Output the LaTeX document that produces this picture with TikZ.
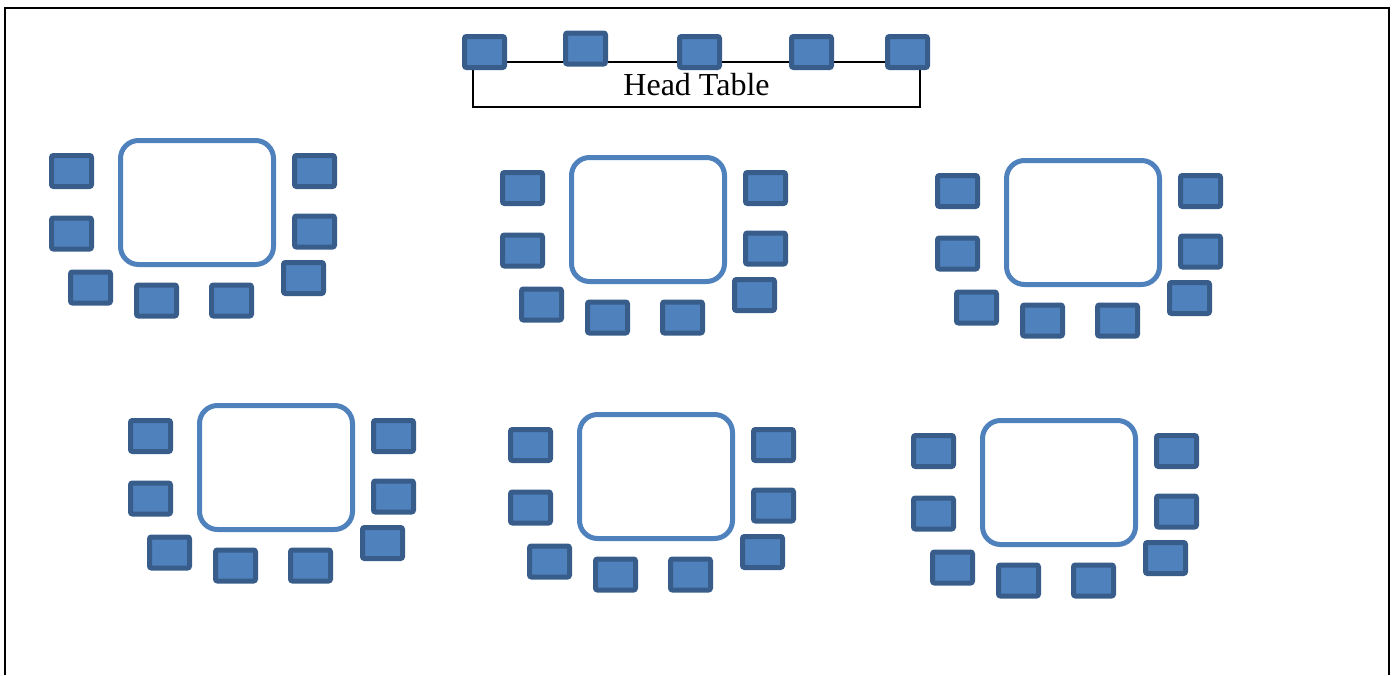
\documentclass[tikz,border=0pt]{standalone}
\usepackage{fontspec}
\setmainfont{Liberation Serif}
\definecolor{chairfill}{HTML}{4F81BD}
\definecolor{chairedge}{HTML}{385D8A}
\definecolor{tableedge}{HTML}{4F81BD}
\begin{document}
\begin{tikzpicture}[x=0.5pt,y=-0.5pt,
  chair/.style={draw=chairedge,fill=chairfill,line width=2.5pt,rounded corners=1pt,
    minimum width=20pt,minimum height=15.5pt,inner sep=0pt},
  tablebox/.style={draw=tableedge,line width=2.5pt,rounded corners=9pt,
    minimum width=76.5pt,minimum height=62pt,inner sep=0pt},
  headbox/.style={draw=black,line width=0.75pt,minimum width=223.5pt,minimum height=22.5pt,
    inner sep=0pt,font=\fontsize{16}{18}\selectfont}]
\useasboundingbox (0,0) rectangle (1397,675);
% page border
\coordinate (bl) at (5,675);
\coordinate (tl) at (5,8);
\coordinate (tr) at (1389,8);
\coordinate (br) at (1389,675);
\draw[line width=1pt] (bl) -- (tl) -- (tr) -- (br);
% head table
\node[headbox] (head) at (696.5,84.5) {Head Table};
\node[chair] (h1) at (484.5,52) {};
\node[chair] (h2) at (585.5,48.5) {};
\node[chair] (h3) at (699.5,52) {};
\node[chair] (h4) at (811.5,52) {};
\node[chair] (h5) at (907.5,52) {};
% round tables with chairs
\foreach \g/\ox/\oy in {1/118/138,2/569/155,3/1004/158,4/197/403,5/577/412,6/980/418}{
  \node[tablebox] (t\g) at ({\ox+79},{\oy+64.5}) {};
  \node[chair] (c\g-1) at ({\ox-46.5},{\oy+33}) {};
  \node[chair] (c\g-2) at ({\ox-46.5},{\oy+95.5}) {};
  \node[chair] (c\g-3) at ({\ox-27.5},{\oy+149.5}) {};
  \node[chair] (c\g-4) at ({\ox+38.5},{\oy+162.5}) {};
  \node[chair] (c\g-5) at ({\ox+113.5},{\oy+162.5}) {};
  \node[chair] (c\g-6) at ({\ox+185.5},{\oy+140}) {};
  \node[chair] (c\g-7) at ({\ox+196.5},{\oy+93.5}) {};
  \node[chair] (c\g-8) at ({\ox+196.5},{\oy+33}) {};
}
\end{tikzpicture}
\end{document}
